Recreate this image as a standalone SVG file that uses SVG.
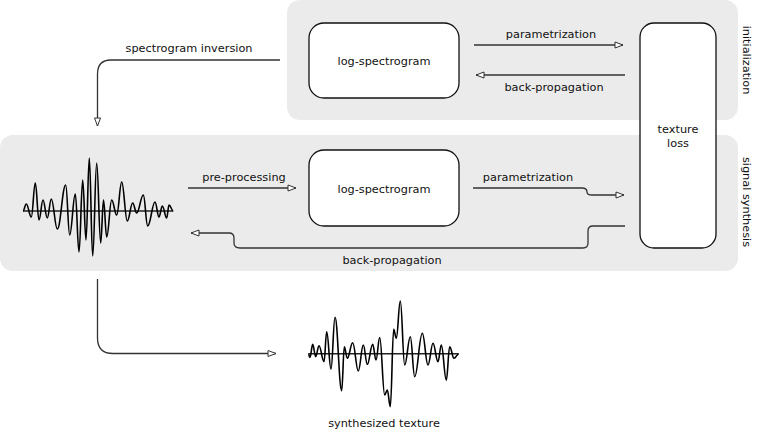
<svg xmlns="http://www.w3.org/2000/svg" width="761" height="437" viewBox="0 0 761 437">
<style>
.panel{fill:#ebebeb;stroke:none}
.box{fill:#fff;stroke:#111;stroke-width:1.3}
.conn{fill:none;stroke:#333;stroke-width:1.3}
.wave{fill:none;stroke:#000;stroke-width:1.6;stroke-linejoin:round}
.axis{fill:none;stroke:#222;stroke-width:1.5}
text{font-family:"DejaVu Sans","Liberation Sans",sans-serif;font-size:11.3px;fill:#111}
.c{text-anchor:middle}
</style>
<defs>
<marker id="ah" markerUnits="userSpaceOnUse" markerWidth="10" markerHeight="8" refX="8" refY="3" orient="auto" viewBox="-1 -1 10 8">
<path d="M0,0 L8,3 L0,6 Z" fill="#fff" stroke="#333" stroke-width="1"/>
</marker>
</defs>

<g id="panel-initialization">
<rect class="panel" x="287" y="0" width="451" height="120" rx="13"/>
<text class="c" transform="translate(743,60) rotate(90)">initialization</text>
</g>
<g id="panel-signal-synthesis">
<rect class="panel" x="0" y="135" width="738" height="136" rx="13"/>
<text class="c" transform="translate(743,202) rotate(90)">signal synthesis</text>
</g>

<g id="connectors">
<path class="conn" d="M474,45 H623" marker-end="url(#ah)"/>
<path class="conn" d="M625,75 H476" marker-end="url(#ah)"/>
<path class="conn" d="M280,60 H111 Q97.5,60 97.5,74 V126" marker-end="url(#ah)"/>
<path class="conn" d="M188,188 H296" marker-end="url(#ah)"/>
<path class="conn" d="M473,188 H582 Q587,188 587,192 Q587,195 592,195 H624" marker-end="url(#ah)"/>
<path class="conn" d="M625,226 H593 Q588,226 588,231 V243 Q588,248 583,248 H240 Q234,248 234,243 V238 Q234,233 229,233 H191" marker-end="url(#ah)"/>
<path class="conn" d="M97.5,279 V338 Q97.5,353.5 113,353.5 H276" marker-end="url(#ah)"/>
<text class="c" x="189" y="52">spectrogram inversion</text>
<text class="c" x="551" y="38">parametrization</text>
<text class="c" x="554" y="91">back-propagation</text>
<text class="c" x="244" y="181">pre-processing</text>
<text class="c" x="528" y="181">parametrization</text>
<text class="c" x="392" y="264">back-propagation</text>
</g>

<g id="node-logspec-top">
<rect class="box" x="309" y="23" width="150" height="75" rx="15"/>
<text class="c" x="384" y="65">log-spectrogram</text>
</g>
<g id="node-texture-loss">
<rect class="box" x="640" y="23" width="76" height="225" rx="14"/>
<text class="c" x="678" y="133">texture</text>
<text class="c" x="678" y="147">loss</text>
</g>
<g id="node-logspec-mid">
<rect class="box" x="309" y="150" width="150" height="76" rx="15"/>
<text class="c" x="384" y="193">log-spectrogram</text>
</g>

<g id="node-signal">
<path class="axis" d="M23,211 H173"/>
<path class="wave" d="M23,211 C24.3,211 25,204 26.3,204 C28.3,204 29.3,217 31.3,217 C32.9,217 33.7,183 35.3,183 C36.8,183 37.5,220 39,220 C40.6,220 41.4,200 43,200 C44.7,200 45.6,218 47.3,218 C48.9,218 49.7,199 51.3,199 C53.7,199 54.9,229 57.3,229 C60.7,229 62.3,185 65.7,185 C67.3,185 68.1,235 69.7,235 C71.9,235 73.1,194 75.3,194 C76.8,194 77.5,252 79,252 C80.5,252 81.2,180 82.7,180 C84,180 84.7,240 86,240 C87.3,240 88,158 89.3,158 C90.7,158 91.3,256 92.7,256 C94.3,256 95.1,163 96.7,163 C98.3,163 99.1,243 100.7,243 C101.8,243 102.4,200 103.5,200 C104.8,200 105.4,237 106.7,237 C108.7,237 109.7,200 111.7,200 C113.7,200 114.7,215 116.7,215 C118.7,215 119.7,182 121.7,182 C123.9,182 125.1,221 127.3,221 C129.5,221 130.5,203 132.7,203 C134.3,203 135.1,213 136.7,213 C139.3,213 140.7,195 143.3,195 C145.1,195 145.9,226 147.7,226 C150.6,226 152.1,202 155,202 C156.6,202 157.4,217 159,217 C160.3,217 161,206 162.3,206 C164.1,206 164.9,218 166.7,218 C167.6,218 168.1,205 169,205 C170.7,205 171.6,211 173.3,211"/>
</g>

<g id="node-synthesized">
<path class="axis" d="M308.5,353.8 H458.5"/>
<path class="wave" d="M308.3,354 C309,354 309.3,357.3 310,357.3 C311.1,357.3 311.6,344.3 312.7,344.3 C313.9,344.3 314.5,356.7 315.7,356.7 C317,356.7 317.7,345.7 319,345.7 C321,345.7 322,361.7 324,361.7 C325.1,361.7 325.6,331.7 326.7,331.7 C328.4,331.7 329.3,369 331,369 C332.6,369 333.4,317.3 335,317.3 C337.7,317.3 339,390.7 341.7,390.7 C342.7,390.7 343.3,346.7 344.3,346.7 C345.5,346.7 346.1,358.3 347.3,358.3 C349.5,358.3 350.5,342.7 352.7,342.7 C354.9,342.7 356.1,371 358.3,371 C360.3,371 361.3,345 363.3,345 C364.9,345 365.7,364.3 367.3,364.3 C369.5,364.3 370.5,344.3 372.7,344.3 C374,344.3 374.7,360 376,360 C377.5,360 378.2,337.5 379.7,337.5 C381.7,337.5 382.7,395 384.7,395 C385.7,395 386.3,390 387.3,390 C388.5,390 389.1,406.7 390.3,406.7 C391.7,406.7 392.3,329.3 393.7,329.3 C394.7,329.3 395.3,338.3 396.3,338.3 C397.9,338.3 398.7,301 400.3,301 C402.1,301 402.9,365 404.7,365 C406.9,365 408.1,336.7 410.3,336.7 C412.1,336.7 412.9,376.7 414.7,376.7 C417.7,376.7 419.3,333.3 422.3,333.3 C424.6,333.3 425.7,365 428,365 C430,365 431,343.3 433,343.3 C435,343.3 436,361.7 438,361.7 C439.3,361.7 440,345 441.3,345 C443.3,345 444.3,380 446.3,380 C447.7,380 448.3,346.7 449.7,346.7 C451.4,346.7 452.3,358.3 454,358.3 C455.9,358.3 456.8,354 458.7,354"/>
<text class="c" x="384" y="427">synthesized texture</text>
</g>
</svg>
